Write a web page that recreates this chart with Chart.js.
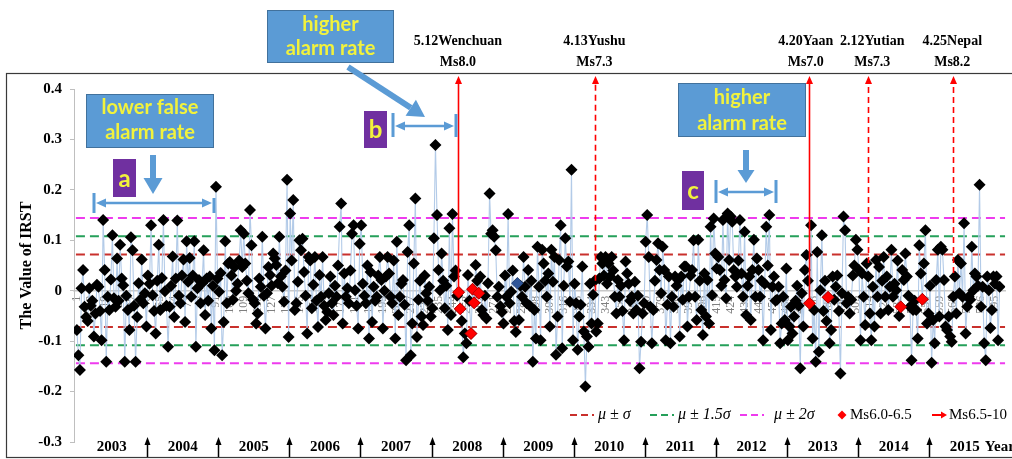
<!DOCTYPE html>
<html>
<head>
<meta charset="utf-8">
<title>IRST time series</title>
<script src="https://cdn.jsdelivr.net/npm/chart.js@4.4.1/dist/chart.umd.min.js"></script>
<style>
  html, body { margin: 0; padding: 0; background: #fff; }
  #irstChart { display: block; }
</style>
</head>
<body>
<canvas id="irstChart" width="1012" height="459"></canvas>
<script>
const SERIF = '"Liberation Serif", "Times New Roman", serif';
const SANS = 'Lato, "Open Sans", sans-serif';

// IRST values, one per 8-day period (46 per year)
const irst2003 = [-0.078, -0.128, -0.157, 0.005, 0.041, -0.032, -0.052, -0.060, 0.005, -0.030,
  -0.020, -0.091, -0.045, 0.012, 0.008, -0.040, -0.098, 0.140, 0.041, -0.141,
  -0.012, -0.038, 0.022, 0.110, -0.015, -0.032, 0.064, -0.020, 0.091, 0.024,
  0.011, -0.141, -0.010, -0.038, -0.078, 0.106, 0.080, -0.030, -0.141, -0.052,
  0.015, -0.018, 0.062, -0.025, -0.005, -0.071];
const irst2004 = [0.030, 0.014, 0.130, -0.009, -0.040, -0.085, 0.020, 0.091, -0.038, 0.025,
  0.140, -0.001, -0.030, -0.111, -0.032, 0.010, 0.068, -0.052, 0.024, 0.139,
  -0.010, -0.025, 0.030, 0.062, -0.062, 0.098, 0.018, 0.065, -0.012, 0.030,
  0.098, -0.111, 0.005, 0.021, -0.025, 0.015, 0.080, -0.048, 0.024, -0.020,
  0.028, -0.075, 0.010, -0.118, 0.206, 0.024];
const irst2005 = [-0.002, 0.035, -0.128, -0.062, 0.098, -0.025, 0.054, 0.057, 0.030, -0.018,
  0.047, 0.000, 0.014, 0.060, 0.120, 0.047, 0.113, 0.054, 0.020, -0.005,
  0.160, 0.090, -0.018, -0.025, -0.065, -0.045, 0.024, 0.008, 0.107, -0.010,
  -0.075, -0.005, 0.047, 0.031, 0.010, 0.074, 0.064, 0.051, 0.015, 0.107,
  0.028, 0.008, -0.022, 0.040, 0.220, -0.092];
const irst2006 = [0.153, 0.060, 0.180, -0.038, -0.025, 0.018, 0.100, 0.080, 0.103, 0.037,
  -0.010, -0.085, 0.067, 0.060, -0.035, 0.012, 0.067, -0.020, -0.072, 0.031,
  -0.012, 0.067, -0.030, -0.058, -0.042, -0.005, 0.028, -0.025, -0.048, 0.010,
  -0.012, 0.050, 0.127, 0.173, -0.065, 0.034, -0.012, 0.005, -0.025, 0.040,
  0.113, 0.130, 0.001, -0.030, -0.075, 0.093];
const irst2007 = [0.130, 0.014, -0.010, -0.025, 0.050, -0.095, 0.037, -0.062, 0.008, -0.020,
  -0.012, 0.030, 0.067, 0.021, -0.075, 0.000, 0.028, 0.067, 0.034, -0.012,
  -0.025, 0.060, -0.095, 0.097, -0.048, -0.012, 0.014, 0.021, -0.028, -0.138,
  0.077, 0.130, -0.128, -0.065, 0.054, 0.183, -0.092, -0.018, 0.020, -0.051,
  -0.068, 0.030, -0.005, -0.020, 0.008, -0.051];
const irst2008 = [-0.035, 0.104, 0.289, 0.150, 0.041, 0.001, 0.074, 0.020, -0.035, 0.010,
  -0.078, 0.124, -0.048, 0.152, 0.028, 0.040, -0.010, -0.003, -0.036, -0.060,
  -0.132, -0.085, -0.104, 0.031, -0.020, -0.085, 0.003, -0.024, 0.051, 0.020,
  -0.005, 0.028, -0.038, -0.048, -0.010, -0.055, 0.015, 0.193, 0.113, 0.120,
  0.107, 0.080, -0.012, 0.008, -0.031, -0.042];
const irst2009 = [-0.065, 0.030, -0.012, 0.152, -0.025, -0.002, 0.040, -0.060, -0.082, 0.015,
  -0.058, 0.010, -0.012, 0.067, 0.008, -0.025, 0.041, -0.030, 0.020, -0.141,
  -0.038, -0.095, 0.087, 0.008, -0.098, 0.081, 0.054, 0.020, -0.012, 0.034,
  -0.071, 0.081, 0.018, 0.067, -0.127, -0.051, 0.061, 0.130, -0.114, 0.010,
  0.104, 0.048, 0.058, -0.022, 0.240, -0.098];
const irst2010 = [0.014, -0.025, -0.117, -0.051, -0.028, 0.048, -0.081, -0.190, -0.091, -0.111,
  0.014, -0.065, -0.008, 0.020, -0.081, -0.065, 0.024, 0.067, 0.054, 0.030,
  0.067, 0.014, 0.054, 0.028, 0.067, 0.040, -0.012, -0.045, 0.021, -0.012,
  0.010, -0.040, -0.098, 0.058, 0.034, 0.014, -0.020, -0.012, -0.045, 0.018,
  -0.038, -0.010, -0.154, -0.101, -0.045, -0.025];
const irst2011 = [0.097, 0.150, 0.067, -0.032, -0.104, -0.038, 0.020, 0.061, 0.094, 0.041,
  -0.005, 0.087, 0.041, -0.098, -0.028, 0.028, -0.104, -0.012, -0.032, 0.028,
  0.010, 0.021, -0.091, 0.028, -0.018, 0.048, 0.048, -0.071, -0.012, 0.030,
  0.041, 0.100, -0.012, -0.058, 0.101, 0.020, -0.038, -0.088, 0.034, -0.051,
  0.021, -0.065, 0.127, -0.009, 0.143, 0.074];
const irst2012 = [0.044, 0.067, 0.041, 0.010, 0.140, 0.021, -0.015, 0.153, 0.061, 0.147,
  0.137, 0.041, 0.028, 0.008, 0.060, 0.140, 0.034, -0.012, 0.117, -0.048,
  0.010, 0.028, -0.058, 0.041, 0.101, -0.012, 0.064, 0.041, -0.012, 0.020,
  -0.098, 0.014, 0.127, 0.050, 0.150, -0.078, 0.008, 0.028, -0.020, -0.018,
  0.008, -0.104, -0.065, -0.012, -0.058, 0.044];
const irst2013 = [-0.098, -0.071, -0.032, -0.085, -0.051, -0.020, 0.010, -0.030, -0.154, -0.005,
  -0.071, 0.041, 0.071, 0.020, -0.025, 0.130, -0.095, -0.038, -0.141, 0.077,
  -0.121, 0.001, 0.110, -0.040, 0.020, -0.060, -0.013, -0.104, -0.078, 0.028,
  -0.018, 0.008, 0.030, -0.040, -0.164, -0.005, 0.147, 0.120, -0.025, -0.012,
  -0.045, -0.018, 0.030, 0.050, 0.101, 0.081];
const irst2014 = [0.041, -0.098, 0.034, -0.012, -0.068, 0.054, 0.028, -0.045, -0.098, 0.008,
  -0.071, 0.061, -0.012, 0.047, -0.045, 0.020, 0.067, -0.012, 0.028, -0.038,
  0.008, 0.081, -0.012, 0.014, 0.001, 0.060, -0.050, -0.032, 0.041, 0.021,
  0.074, 0.028, -0.010, -0.032, -0.138, -0.038, -0.020, -0.038, -0.095, 0.090,
  0.034, -0.017, 0.054, 0.120, -0.065, -0.045];
const irst2015 = [0.010, -0.143, -0.058, -0.104, 0.021, 0.081, -0.051, 0.087, 0.081, 0.021,
  -0.071, -0.078, -0.051, -0.091, -0.101, -0.012, 0.028, -0.045, 0.061, -0.005,
  0.054, -0.012, 0.134, -0.085, -0.032, -0.012, -0.018, 0.087, 0.001, 0.034,
  0.028, 0.010, 0.210, -0.032, 0.008, -0.104, -0.138, 0.028, 0.001, -0.074,
  -0.038, 0.028, 0.014, 0.028, -0.098, 0.008];

const years = ['2003', '2004', '2005', '2006', '2007', '2008', '2009',
  '2010', '2011', '2012', '2013', '2014', '2015'];
const periodsPerYear = 46;

// sample numbers printed under the zero line
const xTickLabels = [1, 10, 19, 28, 37, 46, 55, 64, 73, 82, 91, 100, 109, 118, 127, 136, 145,
  154, 163, 172, 181, 190, 199, 208, 217, 226, 235, 244, 253, 262, 271, 280, 289, 298, 307,
  316, 325, 334, 343, 352, 361, 370, 379, 388, 397, 406, 415, 424, 433, 442, 451, 460, 469,
  478, 487, 496, 505, 514, 523, 532, 541, 550, 559, 568, 577, 586, 595];
const yTickValues = [-0.3, -0.2, -0.1, 0, 0.1, 0.2, 0.3, 0.4];

// mean +/- k*sigma threshold levels
const bandNames = ['μ ± σ', 'μ ± 1.5σ', 'μ ± 2σ'];
const bandValues = [0.072, 0.108, 0.144];

// large earthquakes (Ms6.5-10)
const quakeNames = ['5.12Wenchuan', '4.13Yushu', '4.20Yaan', '2.12Yutian', '4.25Nepal'];
const quakeMags = ['Ms8.0', 'Ms7.3', 'Ms7.0', 'Ms7.3', 'Ms8.2'];
const quakeIdx = [247.5, 336.5, 474.5, 513, 568];
const quakeEnd = [0.0, 0.0, -0.025, 0.055, 0.035];
const quakeSolid = [true, false, true, false, false];

// samples coinciding with Ms6.0-6.5 events, and one highlighted sample
const markIdx = [248, 249, 256, 257, 258, 261, 475, 487, 534, 548];
const blueIdx = [286];
const markerNames = ['Ms6.0-6.5', 'Ms6.5-10'];

const bandColors = ['#c9302c', '#25a05a', '#ee3bee'];
const X_MIN = -0.85;
const X_MAX = 601.6;
const MARK_R = 6;

const irst = [].concat(irst2003, irst2004, irst2005, irst2006, irst2007, irst2008, irst2009,
  irst2010, irst2011, irst2012, irst2013, irst2014, irst2015);

function diamond(ctx, x, y, r) {
  ctx.beginPath();
  ctx.moveTo(x, y - r);
  ctx.lineTo(x + r, y);
  ctx.lineTo(x, y + r);
  ctx.lineTo(x - r, y);
  ctx.closePath();
  ctx.fill();
}

function arrow(ctx, x0, y0, x1, y1, shaft, headLen, headW, color) {
  const dx = x1 - x0, dy = y1 - y0;
  const len = Math.hypot(dx, dy);
  const ux = dx / len, uy = dy / len;
  const bx = x1 - ux * headLen, by = y1 - uy * headLen;
  ctx.strokeStyle = color;
  ctx.fillStyle = color;
  ctx.lineWidth = shaft;
  ctx.lineCap = 'butt';
  ctx.beginPath();
  ctx.moveTo(x0, y0);
  ctx.lineTo(bx, by);
  ctx.stroke();
  ctx.beginPath();
  ctx.moveTo(x1, y1);
  ctx.lineTo(bx - uy * headW / 2, by + ux * headW / 2);
  ctx.lineTo(bx + uy * headW / 2, by - ux * headW / 2);
  ctx.closePath();
  ctx.fill();
}

function bracket(ctx, x0, x1, y, barTop0, barTop1, barBottom) {
  const c = '#5b9bd5';
  ctx.strokeStyle = c;
  ctx.fillStyle = c;
  ctx.lineWidth = 3;
  ctx.beginPath();
  ctx.moveTo(x0, barTop0);
  ctx.lineTo(x0, barBottom);
  ctx.moveTo(x1, barTop1);
  ctx.lineTo(x1, barBottom);
  ctx.stroke();
  ctx.lineWidth = 2.5;
  ctx.beginPath();
  ctx.moveTo(x0 + 8, y);
  ctx.lineTo(x1 - 8, y);
  ctx.stroke();
  [[x0 + 2, 1], [x1 - 2, -1]].forEach(([tip, dir]) => {
    ctx.beginPath();
    ctx.moveTo(tip, y);
    ctx.lineTo(tip + dir * 10, y - 4.5);
    ctx.lineTo(tip + dir * 10, y + 4.5);
    ctx.closePath();
    ctx.fill();
  });
}

function callout(ctx, x, y, w, h, lines, lineYs) {
  ctx.fillStyle = '#5b9bd5';
  ctx.fillRect(x, y, w, h);
  ctx.strokeStyle = '#41719c';
  ctx.lineWidth = 1;
  ctx.strokeRect(x + 0.5, y + 0.5, w - 1, h - 1);
  ctx.fillStyle = '#f2f23c';
  ctx.font = `bold 20px ${SANS}`;
  ctx.textAlign = 'center';
  ctx.textBaseline = 'middle';
  lines.forEach((t, i) => ctx.fillText(t, x + w / 2, lineYs[i]));
}

function tag(ctx, x, y, w, h, letter) {
  ctx.fillStyle = '#7030a0';
  ctx.fillRect(x, y, w, h);
  ctx.fillStyle = '#f2f23c';
  ctx.font = `bold 24px ${SANS}`;
  ctx.textAlign = 'center';
  ctx.textBaseline = 'middle';
  ctx.fillText(letter, x + w / 2, y + h / 2 + 1);
}

const decorations = {
  id: 'decorations',
  afterDatasetsDraw(chart) {
    const { ctx, chartArea, scales: { x, y } } = chart;
    ctx.save();
    // earthquake arrows rising from the series to the labels
    quakeIdx.forEach((q, k) => {
      const px = Math.round(x.getPixelForValue(q)) + 0.5;
      const yBottom = y.getPixelForValue(quakeEnd[k]);
      const yTop = chartArea.top - 13;
      ctx.strokeStyle = '#ff0000';
      ctx.lineWidth = 1.6;
      ctx.setLineDash(quakeSolid[k] ? [] : [6, 4]);
      ctx.beginPath();
      ctx.moveTo(px, yBottom);
      ctx.lineTo(px, yTop + 6);
      ctx.stroke();
      ctx.setLineDash([]);
      ctx.fillStyle = '#ff0000';
      ctx.beginPath();
      ctx.moveTo(px, yTop);
      ctx.lineTo(px - 3.5, yTop + 8);
      ctx.lineTo(px + 3.5, yTop + 8);
      ctx.closePath();
      ctx.fill();
    });
    ctx.restore();
  },
  afterDraw(chart) {
    const { ctx, chartArea, scales: { x } } = chart;
    ctx.save();

    // outer frame
    ctx.strokeStyle = '#3a3a3a';
    ctx.lineWidth = 1.2;
    ctx.strokeRect(6.5, 73.5, 1100, 384);

    // earthquake labels above the frame
    const nudge = [0, -1, -3, 4, -1];
    ctx.fillStyle = '#000';
    ctx.font = `bold 14px ${SERIF}`;
    ctx.textAlign = 'center';
    ctx.textBaseline = 'middle';
    quakeIdx.forEach((q, k) => {
      const px = x.getPixelForValue(q) + nudge[k];
      ctx.fillText(quakeNames[k], px, chartArea.top - 48);
      ctx.fillText(quakeMags[k], px, chartArea.top - 27);
    });

    // year labels with boundary arrows
    const yearY = 447;
    ctx.font = `bold 15px ${SERIF}`;
    years.forEach((yr, k) => {
      const cx = x.getPixelForValue(k * periodsPerYear + 23.5);
      ctx.fillStyle = '#000';
      ctx.textAlign = 'center';
      ctx.fillText(yr, cx, yearY);
      if (k === years.length - 1) {
        ctx.textAlign = 'left';
        ctx.fillText('Year', cx + ctx.measureText(yr).width / 2 + 5, yearY);
      } else {
        const bx = Math.round(x.getPixelForValue((k + 1) * periodsPerYear + 0.5)) + 0.5;
        ctx.strokeStyle = '#000';
        ctx.lineWidth = 1.5;
        ctx.beginPath();
        ctx.moveTo(bx, 457);
        ctx.lineTo(bx, 443);
        ctx.stroke();
        ctx.beginPath();
        ctx.moveTo(bx, 437);
        ctx.lineTo(bx - 3, 445);
        ctx.lineTo(bx + 3, 445);
        ctx.closePath();
        ctx.fill();
      }
    });

    // legend row
    const ly = 415;
    const swatchX = [570, 650, 740];
    const textX = [598, 678, 774];
    ctx.textAlign = 'left';
    ctx.textBaseline = 'middle';
    bandNames.forEach((name, k) => {
      ctx.strokeStyle = bandColors[k];
      ctx.lineWidth = 2;
      ctx.setLineDash([7, 4]);
      ctx.beginPath();
      ctx.moveTo(swatchX[k], ly);
      ctx.lineTo(swatchX[k] + 24, ly);
      ctx.stroke();
      ctx.setLineDash([]);
      ctx.fillStyle = '#000';
      ctx.font = `italic 16px ${SERIF}`;
      ctx.fillText(name, textX[k], ly);
    });
    ctx.fillStyle = '#ff0000';
    diamond(ctx, 842, ly, 4.5);
    ctx.fillStyle = '#000';
    ctx.font = `15px ${SERIF}`;
    ctx.fillText(markerNames[0], 850, ly);
    arrow(ctx, 932, ly, 947, ly, 2, 6, 7, '#ff0000');
    ctx.fillStyle = '#000';
    ctx.fillText(markerNames[1], 949, ly);

    // callouts
    callout(ctx, 267, 10, 127, 53, ['higher', 'alarm rate'], [25, 49]);
    callout(ctx, 86, 94, 128, 54, ['lower false', 'alarm rate'], [108, 133]);
    callout(ctx, 678, 83, 128, 54, ['higher', 'alarm rate'], [98, 124]);
    tag(ctx, 113, 159, 23, 38, 'a');
    tag(ctx, 364, 111, 23, 37, 'b');
    tag(ctx, 682, 171, 22, 39, 'c');
    const blue = '#5b9bd5';
    arrow(ctx, 153, 155, 153, 194, 6, 16, 19, blue);
    arrow(ctx, 348, 67, 425, 117, 6, 17, 19, blue);
    arrow(ctx, 746, 150, 746, 183, 6, 13, 17, blue);
    bracket(ctx, 94, 214, 203, 193, 198, 213);
    bracket(ctx, 393, 456, 126, 113, 114, 137);
    bracket(ctx, 716, 776, 192, 180, 180, 203);

    ctx.restore();
  }
};

const bandSets = [];
bandValues.forEach((v, k) => {
  [v, -v].forEach(level => {
    bandSets.push({
      data: [{ x: 0.4, y: level }, { x: X_MAX, y: level }],
      showLine: true,
      borderColor: bandColors[k],
      borderWidth: 2,
      borderDash: [9, 5],
      pointRadius: 0,
      order: 3
    });
  });
});

new Chart(document.getElementById('irstChart'), {
  type: 'scatter',
  data: {
    datasets: [
      {
        data: irst.map((v, i) => ({ x: i + 1, y: v })),
        showLine: true,
        borderColor: '#b3cbe8',
        borderWidth: 1.1,
        pointStyle: 'rectRot',
        pointRadius: MARK_R,
        pointBackgroundColor: '#000',
        pointBorderWidth: 0,
        order: 2
      },
      {
        data: markIdx.map(i => ({ x: i, y: irst[i - 1] })),
        pointStyle: 'rectRot',
        pointRadius: MARK_R,
        pointBackgroundColor: '#ff0000',
        pointBorderColor: '#b00000',
        pointBorderWidth: 0.8,
        order: 0
      },
      {
        data: blueIdx.map(i => ({ x: i, y: irst[i - 1] })),
        pointStyle: 'rectRot',
        pointRadius: MARK_R,
        pointBackgroundColor: '#2f5597',
        pointBorderWidth: 0,
        order: 1
      },
      ...bandSets
    ]
  },
  options: {
    responsive: false,
    animation: false,
    devicePixelRatio: 1,
    layout: { padding: { top: 89, bottom: 17, left: 0, right: 0 } },
    plugins: {
      legend: { display: false },
      tooltip: { enabled: false }
    },
    scales: {
      x: {
        type: 'linear',
        min: X_MIN,
        max: X_MAX,
        position: { y: 0 },
        afterBuildTicks: s => { s.ticks = xTickLabels.map(v => ({ value: v })); },
        afterFit: s => { s.paddingLeft = 0; s.paddingRight = 0; },
        ticks: {
          autoSkip: false,
          minRotation: 90,
          maxRotation: 90,
          padding: 5,
          color: '#7f7f7f',
          font: { family: SERIF, size: 12 },
          callback: v => String(v)
        },
        grid: { display: false, drawTicks: false },
        border: { display: true, color: '#c8c8c8', width: 1.5 }
      },
      y: {
        min: -0.3,
        max: 0.4,
        afterBuildTicks: s => { s.ticks = yTickValues.map(v => ({ value: v })); },
        afterFit: s => { s.width = 74; },
        ticks: {
          color: '#000',
          padding: 8,
          font: { family: SERIF, size: 15, weight: 'bold' },
          callback: v => String(Number(v.toFixed(1)))
        },
        grid: { drawOnChartArea: false, drawTicks: true, tickLength: 4, color: '#bfbfbf' },
        border: { color: '#bfbfbf', width: 1 },
        title: {
          display: true,
          text: 'The Value of IRST',
          color: '#000',
          font: { family: SERIF, size: 16, weight: 'bold' },
          padding: { top: 17, bottom: 0 }
        }
      }
    }
  },
  plugins: [decorations]
});
</script>
</body>
</html>
